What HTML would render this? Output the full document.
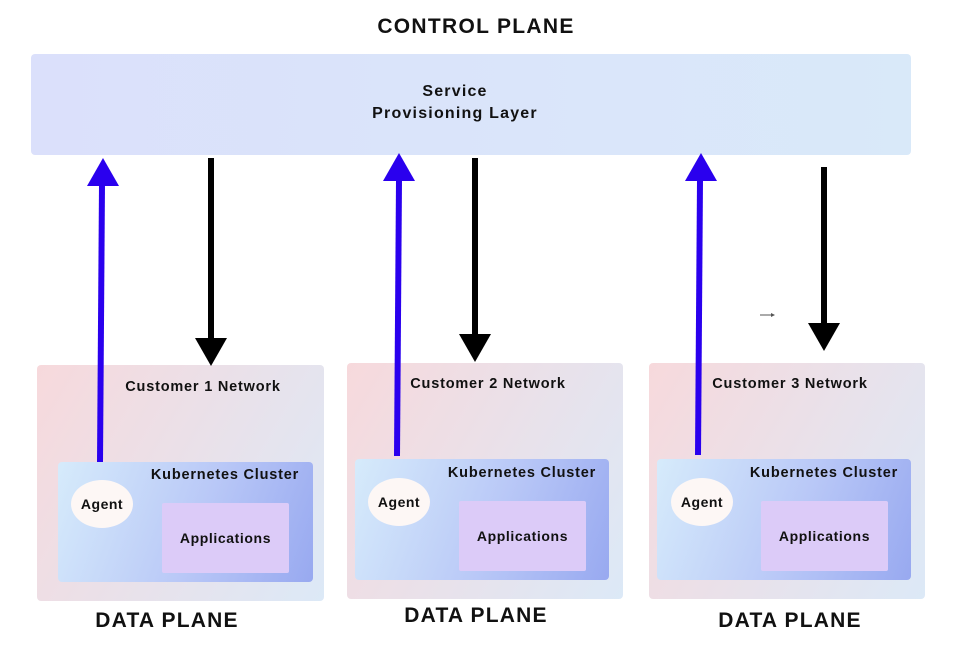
<!DOCTYPE html>
<html><head><style>
body{margin:0;width:956px;height:646px;background:#fff;position:relative;overflow:hidden;font-family:"Liberation Sans",sans-serif;font-weight:bold;color:#111}
.a{position:absolute}
.t{position:absolute;transform:translateX(-50%);white-space:nowrap}
.net{position:absolute;border-radius:4px;background:linear-gradient(120deg,#f7d9dc,#dce9f7)}
.cl{position:absolute;border-radius:4px;background:linear-gradient(110deg,#d6ebfb,#b9c8f7 55%,#98a9f0)}
.ag{position:absolute;width:62px;height:48px;border-radius:50%;background:#fdf7f5;font-size:14px;letter-spacing:0.5px;display:flex;align-items:center;justify-content:center}
.ap{position:absolute;width:127px;height:70px;background:#dccbf8;border-radius:2px;font-size:14px;letter-spacing:0.6px;display:flex;align-items:center;justify-content:center}
.h{font-size:14.5px;letter-spacing:0.8px}
.dp{font-size:21px;letter-spacing:1.2px}
</style></head><body>
<div class="t" style="left:476px;top:15px;font-size:21px;letter-spacing:1.3px">CONTROL PLANE</div>
<div class="a" style="left:31px;top:54px;width:880px;height:101px;border-radius:4px;background:linear-gradient(90deg,#dbe0fb,#d9e9f9)"></div>
<div class="t" style="left:455px;top:81px;font-size:16px;letter-spacing:1.2px;text-align:center;line-height:22px">Service<br>Provisioning Layer</div>

<div class="net" style="left:37px;top:365px;width:287px;height:236px"></div>
<div class="t h" style="left:203px;top:379px">Customer 1 Network</div>
<div class="cl" style="left:58px;top:462px;width:255px;height:120px"></div>
<div class="t h" style="left:225px;top:467px">Kubernetes Cluster</div>
<div class="ag" style="left:71px;top:480px">Agent</div>
<div class="ap" style="left:162px;top:503px">Applications</div>

<div class="net" style="left:347px;top:363px;width:276px;height:236px"></div>
<div class="t h" style="left:488px;top:376px">Customer 2 Network</div>
<div class="cl" style="left:355px;top:459px;width:254px;height:121px"></div>
<div class="t h" style="left:522px;top:465px">Kubernetes Cluster</div>
<div class="ag" style="left:368px;top:478px">Agent</div>
<div class="ap" style="left:459px;top:501px">Applications</div>

<div class="net" style="left:649px;top:363px;width:276px;height:236px"></div>
<div class="t h" style="left:790px;top:376px">Customer 3 Network</div>
<div class="cl" style="left:657px;top:459px;width:254px;height:121px"></div>
<div class="t h" style="left:824px;top:465px">Kubernetes Cluster</div>
<div class="ag" style="left:671px;top:478px">Agent</div>
<div class="ap" style="left:761px;top:501px">Applications</div>

<div class="t dp" style="left:167px;top:609px">DATA PLANE</div>
<div class="t dp" style="left:476px;top:604px">DATA PLANE</div>
<div class="t dp" style="left:790px;top:609px">DATA PLANE</div>

<svg class="a" style="left:0;top:0" width="956" height="646">
<g stroke="#2a00ee" stroke-width="6" fill="#2a00ee">
<line x1="100" y1="462" x2="102" y2="184"/><polygon points="103,158 87,186 119,186" stroke="none"/>
<line x1="397" y1="456" x2="399" y2="180"/><polygon points="399,153 383,181 415,181" stroke="none"/>
<line x1="698" y1="455" x2="700" y2="180"/><polygon points="701,153 685,181 717,181" stroke="none"/>
</g>
<g stroke="#000" stroke-width="6" fill="#000">
<line x1="211" y1="158" x2="211" y2="340"/><polygon points="211,366 195,338 227,338" stroke="none"/>
<line x1="475" y1="158" x2="475" y2="336"/><polygon points="475,362 459,334 491,334" stroke="none"/>
<line x1="824" y1="167" x2="824" y2="325"/><polygon points="824,351 808,323 840,323" stroke="none"/>
</g>
<line x1="760" y1="315" x2="773" y2="315" stroke="#555" stroke-width="1"/>
<polygon points="775,315 771,313 771,317" fill="#555"/>
</svg>
</body></html>
